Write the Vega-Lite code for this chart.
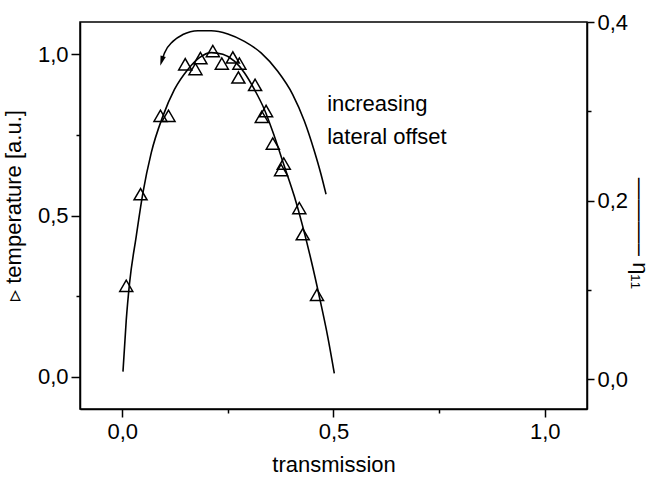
{
  "$schema": "https://vega.github.io/schema/vega-lite/v6.json",
  "width": 507,
  "height": 387,
  "autosize": {"type": "none"},
  "padding": {"left": 80, "top": 22, "right": 68, "bottom": 70},
  "background": "white",
  "config": {
    "font": "Liberation Sans",
    "view": {"stroke": "black", "strokeWidth": 1.5},
    "axis": {
      "domainColor": "black", "domainWidth": 1.5,
      "tickColor": "black", "tickWidth": 1.5,
      "labelColor": "black", "titleColor": "black",
      "labelFont": "Liberation Sans", "titleFont": "Liberation Sans",
      "labelFontSize": 22, "titleFontSize": 22, "titleFontWeight": "normal",
      "grid": false, "labelFlush": false, "labelOverlap": false
    }
  },
  "datasets": {
    "temperature": [
      {"transmission": 0.0095, "temperature": 0.282},
      {"transmission": 0.0433, "temperature": 0.566},
      {"transmission": 0.0905, "temperature": 0.809},
      {"transmission": 0.1095, "temperature": 0.809},
      {"transmission": 0.149, "temperature": 0.969},
      {"transmission": 0.1733, "temperature": 0.954},
      {"transmission": 0.1851, "temperature": 0.988},
      {"transmission": 0.2144, "temperature": 1.010},
      {"transmission": 0.2357, "temperature": 0.971},
      {"transmission": 0.2617, "temperature": 0.990},
      {"transmission": 0.2773, "temperature": 0.971},
      {"transmission": 0.2749, "temperature": 0.928},
      {"transmission": 0.3144, "temperature": 0.905},
      {"transmission": 0.3404, "temperature": 0.824},
      {"transmission": 0.3303, "temperature": 0.806},
      {"transmission": 0.3563, "temperature": 0.723},
      {"transmission": 0.3823, "temperature": 0.661},
      {"transmission": 0.3759, "temperature": 0.641},
      {"transmission": 0.4191, "temperature": 0.523},
      {"transmission": 0.4272, "temperature": 0.442},
      {"transmission": 0.461, "temperature": 0.254}
    ],
    "eta": [
      {"transmission": 0.0017, "eta": 0.0085},
      {"transmission": 0.0095, "eta": 0.0665},
      {"transmission": 0.0173, "eta": 0.1077},
      {"transmission": 0.0331, "eta": 0.160},
      {"transmission": 0.0489, "eta": 0.2086},
      {"transmission": 0.0686, "eta": 0.2535},
      {"transmission": 0.0962, "eta": 0.2946},
      {"transmission": 0.1236, "eta": 0.3245},
      {"transmission": 0.1553, "eta": 0.3469},
      {"transmission": 0.1827, "eta": 0.3601},
      {"transmission": 0.2104, "eta": 0.3657},
      {"transmission": 0.2381, "eta": 0.3638},
      {"transmission": 0.2655, "eta": 0.3563},
      {"transmission": 0.2891, "eta": 0.3432},
      {"transmission": 0.3128, "eta": 0.3245},
      {"transmission": 0.3364, "eta": 0.3021},
      {"transmission": 0.3600, "eta": 0.2721},
      {"transmission": 0.3837, "eta": 0.2385},
      {"transmission": 0.4073, "eta": 0.2048},
      {"transmission": 0.4272, "eta": 0.1712},
      {"transmission": 0.4468, "eta": 0.1338},
      {"transmission": 0.4664, "eta": 0.0927},
      {"transmission": 0.4863, "eta": 0.0478},
      {"transmission": 0.5019, "eta": 0.0067}
    ],
    "arrow": [
      {"transmission": 0.0934, "temperature": 0.979},
      {"transmission": 0.100, "temperature": 1.004},
      {"transmission": 0.1199, "temperature": 1.040},
      {"transmission": 0.1435, "temperature": 1.061},
      {"transmission": 0.179, "temperature": 1.073},
      {"transmission": 0.2104, "temperature": 1.073},
      {"transmission": 0.2499, "temperature": 1.063},
      {"transmission": 0.2891, "temperature": 1.040},
      {"transmission": 0.3286, "temperature": 1.004},
      {"transmission": 0.368, "temperature": 0.947},
      {"transmission": 0.4035, "temperature": 0.875},
      {"transmission": 0.431, "temperature": 0.793},
      {"transmission": 0.4546, "temperature": 0.700},
      {"transmission": 0.4704, "temperature": 0.628},
      {"transmission": 0.4823, "temperature": 0.566}
    ],
    "head": [
      {"transmission": 0.0934, "temperature": 0.979}
    ],
    "note": [
      {"transmission": 0.485, "temperature": 0.824, "label": "increasing"},
      {"transmission": 0.485, "temperature": 0.722, "label": "lateral offset"}
    ]
  },
  "layer": [
    {
      "layer": [
        {
          "data": {"name": "temperature"},
          "mark": {"type": "point", "shape": "triangle-up", "filled": false, "stroke": "black", "strokeWidth": 1.5, "size": 170, "opacity": 1},
          "encoding": {
            "x": {
              "field": "transmission", "type": "quantitative",
              "scale": {"domain": [-0.1, 1.1], "nice": false, "zero": false},
              "axis": {
                "title": "transmission",
                "values": [0, 0.25, 0.5, 0.75, 1.0],
                "labelExpr": "round(datum.value*4)%2==0 ? replace(format(datum.value,'.1f'),'.',',') : ''",
                "tickSize": {"condition": {"test": "round(datum.value*4)%2==0", "value": 8}, "value": 4},
                "labelPadding": 4,
                "titlePadding": 12
              }
            },
            "y": {
              "field": "temperature", "type": "quantitative",
              "scale": {"domain": [-0.1, 1.1], "nice": false, "zero": false},
              "axis": {
                "title": "▹   temperature [a.u.]",
                "values": [0, 0.25, 0.5, 0.75, 1.0],
                "labelExpr": "round(datum.value*4)%2==0 ? replace(format(datum.value,'.1f'),'.',',') : ''",
                "tickSize": {"condition": {"test": "round(datum.value*4)%2==0", "value": 9}, "value": 4},
                "labelPadding": 3,
                "titlePadding": 12,
                "titleY": 183
              }
            }
          }
        },
        {
          "data": {"name": "arrow"},
          "mark": {"type": "line", "color": "black", "strokeWidth": 1.6, "interpolate": "monotone"},
          "encoding": {
            "x": {"field": "transmission", "type": "quantitative", "scale": {"domain": [-0.1, 1.1], "nice": false, "zero": false}},
            "y": {"field": "temperature", "type": "quantitative", "scale": {"domain": [-0.1, 1.1], "nice": false, "zero": false}}
          }
        },
        {
          "data": {"name": "head"},
          "mark": {"type": "point", "shape": "M-0.55,-1L0.55,-1L0,1Z", "filled": true, "color": "black", "size": 100, "angle": 17, "opacity": 1},
          "encoding": {
            "x": {"field": "transmission", "type": "quantitative", "scale": {"domain": [-0.1, 1.1], "nice": false, "zero": false}},
            "y": {"field": "temperature", "type": "quantitative", "scale": {"domain": [-0.1, 1.1], "nice": false, "zero": false}}
          }
        },
        {
          "data": {"name": "note"},
          "mark": {"type": "text", "align": "left", "baseline": "alphabetic", "font": "Liberation Sans", "fontSize": 22, "color": "black"},
          "encoding": {
            "x": {"field": "transmission", "type": "quantitative", "scale": {"domain": [-0.1, 1.1], "nice": false, "zero": false}},
            "y": {"field": "temperature", "type": "quantitative", "scale": {"domain": [-0.1, 1.1], "nice": false, "zero": false}},
            "text": {"field": "label", "type": "nominal"}
          }
        }
      ]
    },
    {
      "data": {"name": "eta"},
      "mark": {"type": "line", "color": "black", "strokeWidth": 1.6, "interpolate": "monotone"},
      "encoding": {
        "x": {"field": "transmission", "type": "quantitative", "scale": {"domain": [-0.1, 1.1], "nice": false, "zero": false}},
        "y": {
          "field": "eta", "type": "quantitative",
          "scale": {"domain": [-0.0333, 0.4], "nice": false, "zero": false},
          "axis": {
            "orient": "right",
            "title": "———– η₁₁",
            "titleAngle": 90,
            "titleY": 211,
            "titlePadding": 0,
            "values": [0, 0.1, 0.2, 0.3, 0.4],
            "labelExpr": "round(datum.value*10)%2==0 ? replace(format(datum.value,'.1f'),'.',',') : ''",
            "tickSize": {"condition": {"test": "round(datum.value*10)%2==0", "value": 7}, "value": 4},
            "labelPadding": 3
          }
        }
      }
    }
  ],
  "resolve": {"scale": {"y": "independent"}}
}
